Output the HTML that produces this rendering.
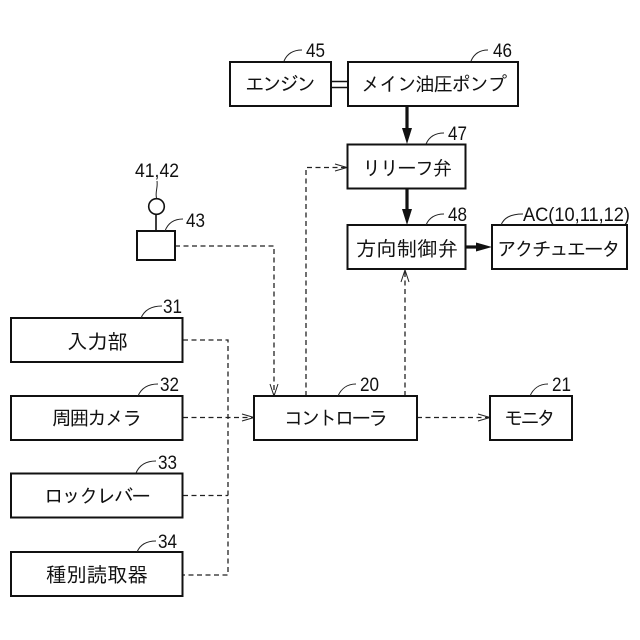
<!DOCTYPE html>
<html>
<head>
<meta charset="utf-8">
<style>
html,body{margin:0;padding:0;background:#fff;width:640px;height:640px;overflow:hidden}
svg{display:block}
text{font-family:"IPAGothic","Noto Sans CJK JP",sans-serif;fill:#111}
.l{font-size:19.500px}
.k{font-size:20.500px}
.n{font-size:19px;font-family:"Liberation Sans","IPAGothic",sans-serif}
.b{fill:#fff;stroke:#111;stroke-width:2}
.d{fill:none;stroke:#222;stroke-width:1.300;stroke-dasharray:5 3.500}
.a{fill:none;stroke:#222;stroke-width:1}
.c{fill:none;stroke:#222;stroke-width:1}
</style>
</head>
<body>
<svg width="640" height="640" viewBox="0 0 640 640" xmlns="http://www.w3.org/2000/svg">
<!-- dashed connectors -->
<path class="d" d="M175 246H274V396"/>
<path class="d" d="M306 396V167.500H347"/>
<path class="d" d="M405 396V270"/>
<path class="d" d="M183 340H228V575H183"/>
<path class="d" d="M183 417.500H254"/>
<path class="d" d="M183 495.500H228"/>
<path class="d" d="M417 417.500H490"/>
<!-- open arrowheads -->
<path class="a" d="M270 384L274 396L278 384"/>
<path class="a" d="M335 164L347 167.500L335 171"/>
<path class="a" d="M401 282L405 270L409 282"/>
<path class="a" d="M242 414L254 417.500L242 421"/>
<path class="a" d="M478 414L490 417.500L478 421"/>
<!-- shaft -->
<path d="M331 81.500H348M331 87.500H348" stroke="#111" stroke-width="1.600" fill="none"/>
<!-- thick arrows -->
<path d="M407 106V134" stroke="#111" stroke-width="3.200" fill="none"/>
<path d="M402 128L407 144L412 128Z" fill="#111"/>
<path d="M407 188V215" stroke="#111" stroke-width="3.200" fill="none"/>
<path d="M402 209L407 225L412 209Z" fill="#111"/>
<path d="M466 247H482" stroke="#111" stroke-width="3.200" fill="none"/>
<path d="M476 242.500L492 247L476 251.500Z" fill="#111"/>
<!-- sensor -->
<line x1="156" y1="215" x2="156" y2="231" stroke="#111" stroke-width="1.600"/>
<circle cx="156.500" cy="206.500" r="7.800" fill="#fff" stroke="#111" stroke-width="1.600"/>
<path class="c" d="M156.500 198C155 192 158 188 157 181"/>
<!-- boxes -->
<rect class="b" x="230" y="62" width="101" height="44"/>
<rect class="b" x="348" y="62" width="170" height="44"/>
<rect class="b" x="347.500" y="144.500" width="118" height="44"/>
<rect class="b" x="347.500" y="225" width="118" height="44"/>
<rect class="b" x="492" y="225" width="135" height="44"/>
<rect class="b" x="137" y="231" width="38" height="29" stroke-width="1.600"/>
<rect class="b" x="11" y="318" width="171.500" height="44"/>
<rect class="b" x="11" y="396" width="171.500" height="44"/>
<rect class="b" x="11" y="473.500" width="171.500" height="44"/>
<rect class="b" x="11" y="552" width="171.500" height="44"/>
<rect class="b" x="254" y="396" width="163" height="44"/>
<rect class="b" x="490" y="396" width="82" height="44"/>
<!-- box labels -->
<text class="l" x="245" y="91" textLength="71">エンジン</text>
<text class="l" x="361" y="91" textLength="146">メイン油圧ポンプ</text>
<text class="l" x="362" y="175" textLength="90">リリーフ弁</text>
<text class="k" x="356" y="256" textLength="102">方向制御弁</text>
<text class="l" x="497" y="256" textLength="124">アクチュエータ</text>
<text class="k" x="67" y="349" textLength="61">入力部</text>
<text class="l" x="52" y="425" textLength="90">周囲カメラ</text>
<text class="l" x="44" y="503" textLength="107">ロックレバー</text>
<text class="k" x="46" y="582" textLength="102">種別読取器</text>
<text class="l" x="284" y="425" textLength="104">コントローラ</text>
<text class="l" x="504" y="425" textLength="52">モニタ</text>
<!-- leader curves -->
<path class="c" d="M284 61C287 54 293 50 302 50"/>
<path class="c" d="M471 61C474 54 480 50 488 50"/>
<path class="c" d="M426 144C429 137 435 133 444 133"/>
<path class="c" d="M426 225C429 218 435 214 444 214"/>
<path class="c" d="M501 225C504 218 510 214 523 214"/>
<path class="c" d="M165 231C168 223 174 219 183 219"/>
<path class="c" d="M141 318C144 311 150 306 162 306"/>
<path class="c" d="M138 396C141 389 147 384 158 384"/>
<path class="c" d="M136 473C139 466 145 461 156 461"/>
<path class="c" d="M137 552C140 545 146 541 156 541"/>
<path class="c" d="M338 396C341 389 347 384 356 384"/>
<path class="c" d="M530 396C533 389 539 384 548 384"/>
<!-- reference numbers -->
<text class="n" x="306" y="57" textLength="19" lengthAdjust="spacingAndGlyphs">45</text>
<text class="n" x="493" y="57" textLength="19" lengthAdjust="spacingAndGlyphs">46</text>
<text class="n" x="448" y="140" textLength="19" lengthAdjust="spacingAndGlyphs">47</text>
<text class="n" x="448" y="221" textLength="19" lengthAdjust="spacingAndGlyphs">48</text>
<text class="n" x="523" y="221" textLength="107" lengthAdjust="spacingAndGlyphs">AC(10,11,12)</text>
<text class="n" x="135" y="177" textLength="44" lengthAdjust="spacingAndGlyphs">41,42</text>
<text class="n" x="186" y="227" textLength="19" lengthAdjust="spacingAndGlyphs">43</text>
<text class="n" x="163" y="313" textLength="19" lengthAdjust="spacingAndGlyphs">31</text>
<text class="n" x="160" y="391" textLength="19" lengthAdjust="spacingAndGlyphs">32</text>
<text class="n" x="158" y="469" textLength="19" lengthAdjust="spacingAndGlyphs">33</text>
<text class="n" x="158" y="548" textLength="19" lengthAdjust="spacingAndGlyphs">34</text>
<text class="n" x="360" y="391" textLength="19" lengthAdjust="spacingAndGlyphs">20</text>
<text class="n" x="552" y="391" textLength="19" lengthAdjust="spacingAndGlyphs">21</text>
</svg>
</body>
</html>
